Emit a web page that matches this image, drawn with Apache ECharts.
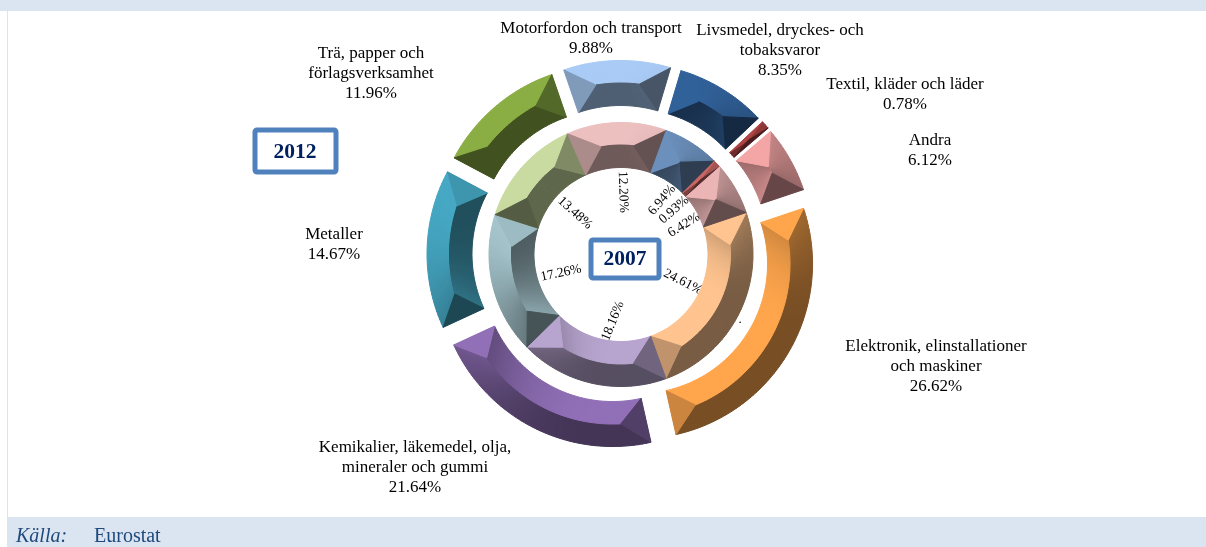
<!DOCTYPE html>
<html>
<head>
<meta charset="utf-8">
<style>
  html, body { margin: 0; padding: 0; background: #fff; }
  #chart { width: 1206px; height: 547px; }
</style>
<script src="https://cdn.jsdelivr.net/npm/echarts@6/dist/echarts.min.js"></script>
</head>
<body>
<div id="chart"></div>
<script>
const categories = [
  'Elektronik, elinstallationer\noch maskiner',
  'Kemikalier, läkemedel, olja,\nmineraler och gummi',
  'Metaller',
  'Trä, papper och\nförlagsverksamhet',
  'Motorfordon och transport',
  'Livsmedel, dryckes- och\ntobaksvaror',
  'Textil, kläder och läder',
  'Andra'
];
const values2012 = [26.62, 21.64, 14.67, 11.96, 9.88, 8.35, 0.78, 6.12];
const values2007 = [24.61, 18.16, 17.26, 13.48, 12.20, 6.94, 0.93, 6.42];

// brightest face colour of each slice
const colors2012 = ['#ffa64d', '#9170b8', '#46a8c4', '#8aae44', '#a9cbf5', '#33649e', '#b04444', '#f4a6a6'];
const colors2007 = ['#ffc48f', '#b8a5cf', '#a6c6ce', '#c9dba0', '#edc0c0', '#6d92bf', '#c96666', '#ebb5b5'];

// label centres and rotation, outer ring then hole of the inner ring
const outerLabelPos = [[936, 367], [415, 468], [334, 245], [371, 74], [591, 39], [780, 51], [905, 95], [930, 151]];
const innerLabelPos = [
  [683, 282, -27], [613, 321, 68], [561, 273, 12], [575, 213, -42],
  [623, 192, -88], [662, 200, 50], [674, 210, 41], [684, 225, 32]
];

const CX = 621, CY = 254.5;
const START_DEG = 71.5;
const EXPLODE = 19;
const LIGHT = [-0.5, -0.85];
const SERIF = '"Liberation Serif", "Times New Roman", serif';

function rgb(hex, k) {
  const n = parseInt(hex.slice(1), 16);
  const c = [n >> 16, (n >> 8) & 255, n & 255].map((v) => Math.round(Math.min(255, v * k)));
  return 'rgb(' + c.join(',') + ')';
}
const smooth = (a, b, x) => {
  const t = Math.max(0, Math.min(1, (x - a) / (b - a)));
  return t * t * (3 - 2 * t);
};
const dot = (nx, ny) => nx * LIGHT[0] + ny * LIGHT[1];
// angle is clockwise from 12 o'clock, y grows downwards
const polar = (a, r) => [r * Math.sin(a), -r * Math.cos(a)];

function bevelItem(values, palette, r0, r1, explode) {
  const total = values.reduce((s, v) => s + v, 0);
  const starts = [];
  values.reduce((acc, v, i) => { starts[i] = acc; return acc + v; }, 0);
  return function (params, api) {
    const i = params.dataIndex;
    const a0 = (START_DEG + (starts[i] / total) * 360) * Math.PI / 180;
    const span = (api.value(0) / total) * 2 * Math.PI;
    const a1 = a0 + span;
    const mid = (r0 + r1) / 2;
    const inset = Math.min(((r1 - r0) / 2 + 3) / mid, span / 2);
    const base = palette[i];
    const steps = Math.max(2, Math.ceil(span / 0.025));
    const children = [];
    const poly = (points, k) => {
      const col = rgb(base, k);
      children.push({
        type: 'polygon',
        shape: { points },
        style: { fill: col, stroke: col, lineWidth: 1 }
      });
    };
    [[r1, 1], [r0, -1]].forEach(([edge, side]) => {
      for (let s = 0; s < steps; s++) {
        const u0 = s / steps, u1 = (s + 1) / steps;
        const e0 = a0 + span * u0, e1 = a0 + span * u1;
        const m0 = a0 + inset + (span - 2 * inset) * u0;
        const m1 = a0 + inset + (span - 2 * inset) * u1;
        const am = (e0 + e1) / 2;
        const n = polar(am, side);
        const k = 0.47 + 0.53 * smooth(-0.8, 0.85, dot(n[0], n[1]));
        poly([polar(e0, edge), polar(e1, edge), polar(m1, mid), polar(m0, mid)], k);
      }
    });
    // mitred end facets
    const facet = (a, ridge, nx, ny) => {
      const k = Math.max(0.42, Math.min(1, 0.68 + 0.4 * dot(nx, ny)));
      poly([polar(a, r1), polar(a, r0), polar(ridge, mid)], k);
    };
    facet(a0, a0 + inset, -Math.cos(a0), -Math.sin(a0));
    facet(a1, a1 - inset, Math.cos(a1), Math.sin(a1));
    const off = polar((a0 + a1) / 2, explode);
    return { type: 'group', x: CX + off[0], y: CY + off[1], children };
  };
}

const outerData = categories.map((name, i) => ({ name, value: values2012[i], selected: true }));
const innerData = categories.map((name, i) => ({ name, value: values2007[i] }));

const chart = echarts.init(document.getElementById('chart'), null, { renderer: 'canvas' });

const boxStyle = { fill: '#fff', stroke: '#4f81bd', lineWidth: 5 };
const yearText = { fill: '#002060', font: 'bold 21.5px ' + SERIF, align: 'center', verticalAlign: 'middle' };
const capText = { fill: '#1f497d', verticalAlign: 'middle' };

const outerLabels = categories.map((name, i) => ({
  type: 'text',
  silent: true,
  style: {
    text: name + '\n' + values2012[i].toFixed(2) + '%',
    x: outerLabelPos[i][0],
    y: outerLabelPos[i][1],
    fill: '#000',
    font: '17px ' + SERIF,
    lineHeight: 20,
    align: 'center',
    verticalAlign: 'middle'
  }
}));

chart.setOption({
  animation: false,
  backgroundColor: '#fff',
  tooltip: { show: false },
  graphic: [
    { type: 'rect', silent: true, shape: { x: 0, y: 0, width: 1206, height: 11 }, style: { fill: '#dbe5f1' } },
    { type: 'rect', silent: true, shape: { x: 7, y: 11, width: 1, height: 506 }, style: { fill: '#dbe5f1' } },
    { type: 'rect', silent: true, shape: { x: 7, y: 517, width: 1199, height: 30 }, style: { fill: '#dbe5f1' } },
    { type: 'text', silent: true, style: { ...capText, text: 'Källa:', x: 16, y: 537, font: 'italic 20px ' + SERIF } },
    { type: 'text', silent: true, style: { ...capText, text: 'Eurostat', x: 94, y: 537, font: '20px ' + SERIF } },
    { type: 'rect', silent: true, shape: { x: 255, y: 130, width: 81, height: 42, r: 2 }, style: boxStyle },
    { type: 'text', silent: true, style: { ...yearText, text: '2012', x: 295, y: 152 } },
    { type: 'rect', silent: true, shape: { x: 591, y: 240, width: 68, height: 38, r: 2 }, style: boxStyle },
    { type: 'text', silent: true, style: { ...yearText, text: '2007', x: 625, y: 259 } },
    { type: 'text', silent: true, style: { text: '.', x: 740, y: 320, fill: '#000', font: '13px ' + SERIF, align: 'center', verticalAlign: 'middle' } },
    ...outerLabels
  ],
  series: [
    {
      type: 'pie',
      name: '2012',
      center: [CX, CY],
      radius: [131, 174],
      startAngle: 90 - START_DEG,
      selectedMode: 'multiple',
      selectedOffset: EXPLODE,
      silent: true,
      data: outerData,
      itemStyle: { color: (p) => colors2012[p.dataIndex] },
      label: { show: false },
      labelLine: { show: false }
    },
    {
      type: 'pie',
      name: '2007',
      center: [CX, CY],
      radius: [88, 131],
      startAngle: 90 - START_DEG,
      silent: true,
      data: innerData,
      itemStyle: { color: (p) => colors2007[p.dataIndex] },
      label: {
        show: true,
        formatter: (p) => p.value.toFixed(2) + '%',
        fontFamily: SERIF,
        fontSize: 13.5,
        color: '#000'
      },
      labelLine: { show: false },
      labelLayout: (p) => ({
        x: innerLabelPos[p.dataIndex][0],
        y: innerLabelPos[p.dataIndex][1],
        rotate: innerLabelPos[p.dataIndex][2],
        align: 'center',
        verticalAlign: 'middle'
      })
    },
    {
      type: 'custom',
      coordinateSystem: 'none',
      silent: true,
      z: 3,
      renderItem: bevelItem(values2012, colors2012, 130, 175, EXPLODE),
      data: values2012.map((v) => [v])
    },
    {
      type: 'custom',
      coordinateSystem: 'none',
      silent: true,
      z: 3,
      renderItem: bevelItem(values2007, colors2007, 87, 132, 0),
      data: values2007.map((v) => [v])
    }
  ]
});

window.addEventListener('resize', () => chart.resize());
</script>
</body>
</html>
